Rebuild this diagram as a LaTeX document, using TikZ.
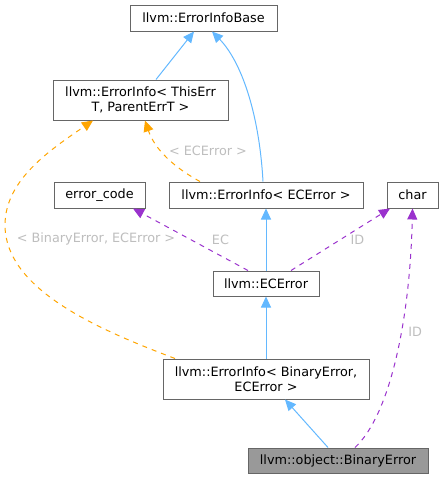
\documentclass[tikz,border=0pt]{standalone}
\usepackage{fontspec}
\setmainfont{DejaVu Sans}
\definecolor{dxblue}{HTML}{63B8FF}
\definecolor{dxpurple}{HTML}{9A32CD}
\definecolor{dxorange}{HTML}{FFA500}
\definecolor{dxgray}{HTML}{666666}
\definecolor{dxfill}{HTML}{999999}
\definecolor{dxlabel}{HTML}{BEBEBE}
\usetikzlibrary{arrows.meta,positioning}

\begin{document}
\begin{tikzpicture}[x=1pt,y=-1pt,
    every node/.style={font=\fontsize{12.8}{15}\selectfont},
    box/.style={draw=dxgray,line width=1pt,fill=white,inner sep=0pt,align=center},
    inh/.style={-{Triangle[length=11pt,width=10pt]},line width=1pt,dxblue},
    use/.style={-{Triangle[length=11pt,width=10pt]},line width=1pt,dxpurple,dash pattern=on 5pt off 5pt},
    tmpl/.style={-{Triangle[length=11pt,width=10pt]},line width=1pt,dxorange,dash pattern=on 5pt off 5pt},
    lbl/.style={text=dxlabel,inner sep=1pt}]
  \useasboundingbox (0,0) rectangle (444,479);

  \node[box,minimum width=147pt,minimum height=26pt] (base)    at (203.5,18)  {llvm::ErrorInfoBase};
  \node[box,minimum width=175pt,minimum height=40pt] (tpl)     at (140.5,100) {llvm::ErrorInfo< ThisErr\\T, ParentErrT >};
  \node[box,minimum width=91pt,minimum height=26pt]  (errcode) at (99.5,195)  {error\_code};
  \node[box,minimum width=194pt,minimum height=26pt] (eceinfo) at (266,195)   {llvm::ErrorInfo< ECError >};
  \node[box,minimum width=51pt,minimum height=26pt]  (chr)     at (412.5,195) {char};
  \node[box,minimum width=106pt,minimum height=25pt] (ecerr)   at (266,283.5) {llvm::ECError};
  \node[box,minimum width=206pt,minimum height=40pt] (bininfo) at (266,379)   {llvm::ErrorInfo< BinaryError,\\ECError >};
  \node[box,fill=dxfill,minimum width=180pt,minimum height=25pt] (binerr) at (338,460.5) {llvm::object::BinaryError};

  % inheritance
  \draw[inh] ([xshift=15.5pt]tpl.north) -- ([xshift=-9.5pt]base.south);
  \draw[inh] ([xshift=-3pt]eceinfo.north) .. controls (259,110) and (240,60) .. ([xshift=8.5pt]base.south);
  \draw[inh] (ecerr.north) -- (eceinfo.south);
  \draw[inh] (bininfo.north) -- (ecerr.south);
  \draw[inh] ([xshift=-10pt]binerr.north) -- ([xshift=19pt]bininfo.south);

  % members
  \draw[use] ([xshift=-18pt]ecerr.north) -- node[lbl,xshift=30pt]{EC} ([xshift=33.5pt]errcode.south);
  \draw[use] ([xshift=25pt]ecerr.north) -- node[lbl,xshift=17pt]{ID} ([xshift=-22.5pt]chr.south);
  \draw[use] ([xshift=17pt]binerr.north) .. controls (390,415) and (410,320) .. node[lbl,pos=0.6,xshift=14pt]{ID} (chr.south);

  % template instances
  \draw[tmpl] ([xshift=-66pt]eceinfo.north) .. controls (175,168) and (155,150) .. ([xshift=4.5pt]tpl.south);
  \node[lbl] (lblece) at (208,151) {< ECError >};
  \draw[tmpl] ([xshift=-91pt]bininfo.north) .. controls (100,330) and (5,290) .. (5,225)
      .. controls (5,180) and (50,150) .. ([xshift=-47.5pt]tpl.south);
  \node[lbl,fill=white] (lblbin) at (96,239) {< BinaryError, ECError >};
\end{tikzpicture}
\end{document}
